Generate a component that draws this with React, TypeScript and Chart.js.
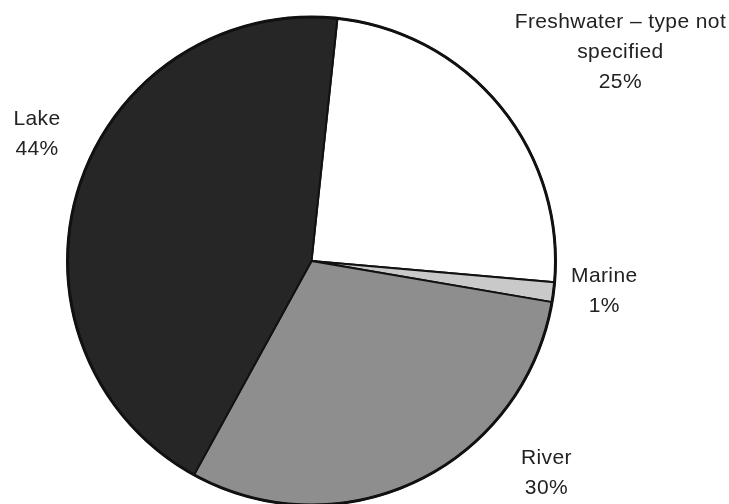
import React, { useEffect, useRef } from "react";
import { Chart, registerables } from "chart.js";

Chart.register(...registerables);

const categories = ["Freshwater – type not specified", "Marine", "River", "Lake"];
const labelLines = [["Freshwater – type not", "specified", "25%"], ["Marine", "1%"], ["River", "30%"], ["Lake", "44%"]];
const shares = [24.7, 1.3, 30.3, 43.7];
const sliceColors = ["#ffffff", "#c9c9c9", "#8e8e8e", "#262626"];
// label centre offsets relative to pie centre, in pie radii
const labelOffsets = [
  [1.266, -0.857],
  [1.2, 0.123],
  [0.963, 0.869],
  [-1.125, -0.518],
];

const labelPlugin = {
  id: "outerLabels",
  afterDatasetsDraw(chart: any) {
    const ctx = chart.ctx;
    const meta = chart.getDatasetMeta(0);
    const first = meta.data[0];
    ctx.save();
    // heavier outer rim
    ctx.beginPath();
    ctx.arc(first.x, first.y, first.outerRadius, 0, Math.PI * 2);
    ctx.lineWidth = 3;
    ctx.strokeStyle = "#111111";
    ctx.stroke();

    ctx.font = "21px 'Liberation Sans', Arial, sans-serif";
    (ctx as any).letterSpacing = "0.4px";
    ctx.fillStyle = "#222222";
    ctx.textAlign = "center";
    ctx.textBaseline = "middle";
    const lh = 30;
    meta.data.forEach((arc: any, i: number) => {
      const r = arc.outerRadius;
      const cx = arc.x + labelOffsets[i][0] * r;
      const cy = arc.y + labelOffsets[i][1] * r;
      const lines = labelLines[i];
      const top = cy - ((lines.length - 1) * lh) / 2;
      lines.forEach((t, j) => ctx.fillText(t, cx, top + j * lh));
    });
    ctx.restore();
  },
};

export default function App() {
  const ref = useRef<HTMLCanvasElement>(null);
  useEffect(() => {
    if (!ref.current) return;
    const chart = new Chart(ref.current, {
      type: "pie",
      data: {
        labels: categories,
        datasets: [
          {
            data: shares,
            backgroundColor: sliceColors,
            borderColor: "#111111",
            borderWidth: 2,
            borderAlign: "center",
          },
        ],
      },
      options: {
        responsive: false,
        animation: false,
        devicePixelRatio: 1,
        rotation: 6.1,
        radius: 244,
        layout: { padding: { left: 0, right: 106, top: 18, bottom: 0 } },
        plugins: {
          legend: { display: false },
          tooltip: { enabled: false },
          title: { display: false },
        },
      },
      plugins: [labelPlugin],
    } as any);
    return () => chart.destroy();
  }, []);
  return (
    <div style={{ position: "absolute", left: 0, top: 0, width: 729, height: 504, background: "#fff" }}>
      <canvas ref={ref} width={729} height={504} style={{ display: "block" }} />
    </div>
  );
}
